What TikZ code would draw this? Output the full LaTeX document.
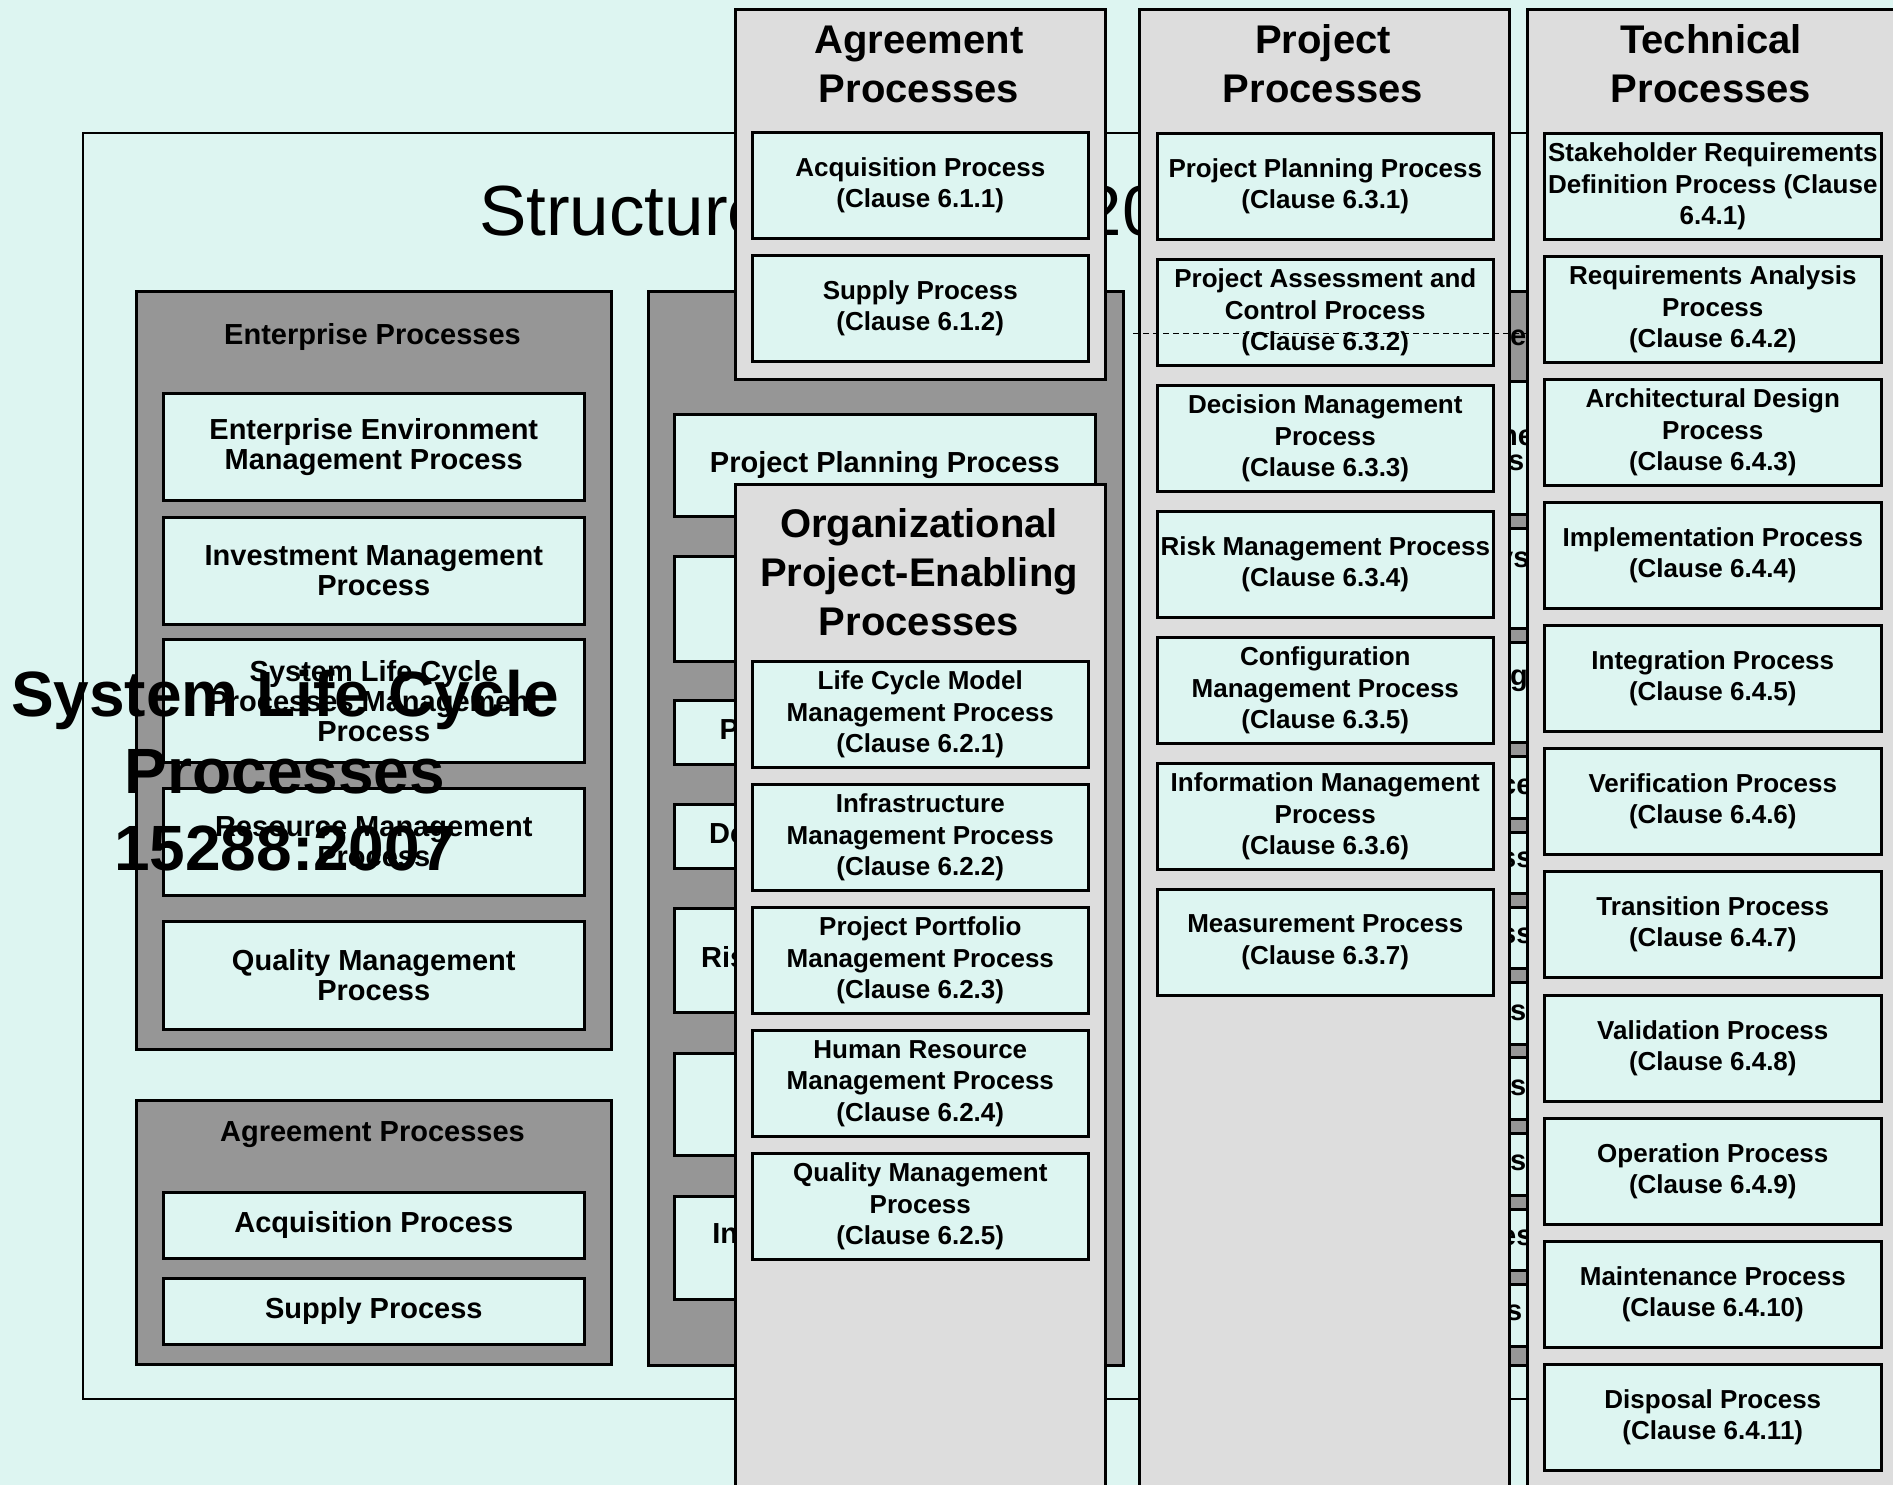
\documentclass[tikz,border=0pt]{standalone}
\usepackage{fontspec}
\setmainfont{Liberation Sans}
\definecolor{cyanbg}{RGB}{221,245,241}
\definecolor{dkgrey}{RGB}{150,150,150}
\definecolor{ltgrey}{RGB}{221,221,221}
\newcommand{\fOld}{\fontsize{29}{30}\selectfont\bfseries}
\newcommand{\fNew}{\fontsize{26}{31.5}\selectfont\bfseries}
\newcommand{\fHead}{\fontsize{40}{49}\selectfont\bfseries}
\newcommand{\fBig}{\fontsize{64}{77}\selectfont\bfseries}
\newcommand{\fTitle}{\fontsize{71}{80}\selectfont}
\tikzset{
  frame/.style={draw=black, line width=2.2pt, anchor=north west, inner sep=0pt},
  oldpanel/.style={draw=black, line width=2.6pt, fill=dkgrey, anchor=north west, inner sep=0pt, minimum width=475pt},
  newpanel/.style={draw=black, line width=2.6pt, fill=ltgrey, anchor=north west, inner sep=0pt, minimum width=370pt},
  oldbox/.style={draw=black, line width=2.6pt, fill=cyanbg, anchor=north west, minimum width=421pt, inner sep=0pt, align=center, font=\fOld},
  newbox/.style={draw=black, line width=2.6pt, fill=cyanbg, anchor=north west, minimum width=336pt, minimum height=106pt, inner sep=0pt, align=center, font=\fNew},
  oldhead/.style={font=\fOld, inner sep=0pt},
  newhead/.style={font=\fHead, align=center, inner sep=0pt},
  frag/.style={font=\fOld, anchor=base west, inner sep=0pt}
}
\begin{document}
\begin{tikzpicture}[x=1pt,y=-1pt]
\useasboundingbox (0,0) rectangle (1893,1485);
\fill[cyanbg] (0,0) rectangle (1893,1485);

% old structure frame and title
\node[frame, minimum width=1605pt, minimum height=1266pt] (frame) at (82,132) {};
\node[anchor=base west, font=\fTitle, inner sep=0pt] (title) at (479,235) {Structure of 15288:2002};

% old enterprise processes
\node[oldpanel, minimum height=758pt] (ent) at (135,290) {};
\node[oldhead] (entT) at (372.5,337) {Enterprise Processes};
\node[oldbox, minimum height=107pt] (e1) at (162,392) {Enterprise Environment\\Management Process};
\node[oldbox, minimum height=107pt] (e2) at (162,516) {Investment Management\\Process};
\node[oldbox, minimum height=123pt] (e3) at (162,638) {System Life Cycle\\Processes Management\\Process};
\node[oldbox, minimum height=107pt] (e4) at (162,787) {Resource Management\\Process};
\node[oldbox, minimum height=108pt] (e5) at (162,920) {Quality Management\\Process};

% old agreement processes
\node[oldpanel, minimum height=264pt] (oag) at (135,1099) {};
\node[oldhead] (oagT) at (372.5,1135) {Agreement Processes};
\node[oldbox, minimum height=66pt] (oa1) at (162,1191) {Acquisition Process};
\node[oldbox, minimum height=66pt] (oa2) at (162,1277) {Supply Process};

% old project processes
\node[oldpanel, minimum height=1074pt] (opp) at (647,290) {};
\node[oldbox, minimum height=102pt] (op1) at (673,413) {Project Planning Process};
\node[oldbox, minimum height=105pt] (op2) at (673,555) {};
\node[oldbox, minimum height=64pt] (op3) at (673,699) {Project Control Process};
\node[oldbox, minimum height=64pt] (op4) at (673,803) {Decision-Making Process};
\node[oldbox, minimum height=104pt] (op5) at (673,907) {Risk Management Process};
\node[oldbox, minimum height=102pt] (op6) at (673,1052) {};
\node[oldbox, minimum height=103pt] (op7) at (673,1195) {Information Management\\Process};

% old technical processes (only a strip stays visible)
\node[oldpanel, minimum height=1074pt] (otp) at (1159,290) {};
\node[oldbox, minimum height=133pt] (ot1) at (1185,380) {};
\node[oldbox, minimum height=100pt] (ot2) at (1185,527) {};
\node[oldbox, minimum height=100pt] (ot3) at (1185,641) {};
\node[oldbox, minimum height=62pt] (ot4) at (1185,755) {};
\node[oldbox, minimum height=61pt] (ot5) at (1185,831) {};
\node[oldbox, minimum height=61pt] (ot6) at (1185,906) {};
\node[oldbox, minimum height=62pt] (ot7) at (1185,981) {};
\node[oldbox, minimum height=62pt] (ot8) at (1185,1056) {};
\node[oldbox, minimum height=62pt] (ot9) at (1185,1132) {};
\node[oldbox, minimum height=61pt] (ot10) at (1185,1208) {};
\node[oldbox, minimum height=62pt] (ot11) at (1185,1283) {};
\node[frag] (fr0) at (1510,345) {es};
\node[frag] (fr1) at (1500,445) {ne};
\node[frag] (fr2) at (1508,470) {s};
\node[frag] (fr3) at (1497,567) {ys};
\node[frag] (fr4) at (1510,685) {g};
\node[frag] (fr5) at (1500,794) {ce};
\node[frag] (fr6) at (1500,867) {ss};
\node[frag] (fr7) at (1500,943) {ss};
\node[frag] (fr8) at (1510,1020) {s};
\node[frag] (fr9) at (1510,1095) {s};
\node[frag] (fr10) at (1510,1170) {s};
\node[frag] (fr11) at (1500,1245) {es};
\node[frag] (fr12) at (1506,1320) {s};

% big overlay label
\node[font=\fBig, align=center, inner sep=0pt] (slc) at (285,771) {System Life Cycle\\Processes\\15288:2007};

% new agreement processes
\node[newpanel, minimum height=370pt] (agr) at (734,8) {};
\node[newhead] (agrT) at (919,64) {Agreement\\Processes};
\node[newbox] (a1) at (751,131) {Acquisition Process\\(Clause 6.1.1)};
\node[newbox] (a2) at (751,254) {Supply Process\\(Clause 6.1.2)};

% new organizational project-enabling processes
\node[newpanel, minimum height=1100pt] (org) at (734,483) {};
\node[newhead] (orgT) at (919,572) {Organizational\\Project-Enabling\\Processes};
\node[newbox] (o1) at (751,660) {Life Cycle Model\\Management Process\\(Clause 6.2.1)};
\node[newbox] (o2) at (751,783) {Infrastructure\\Management Process\\(Clause 6.2.2)};
\node[newbox] (o3) at (751,906) {Project Portfolio\\Management Process\\(Clause 6.2.3)};
\node[newbox] (o4) at (751,1029) {Human Resource\\Management Process\\(Clause 6.2.4)};
\node[newbox] (o5) at (751,1152) {Quality Management\\Process\\(Clause 6.2.5)};

% new project processes
\node[newpanel, minimum height=1577pt] (prj) at (1138,8) {};
\node[newhead] (prjT) at (1323,64) {Project\\Processes};
\node[newbox] (p1) at (1156,132) {Project Planning Process\\(Clause 6.3.1)};
\node[newbox] (p2) at (1156,258) {Project Assessment and\\Control Process\\(Clause 6.3.2)};
\node[newbox] (p3) at (1156,384) {Decision Management\\Process\\(Clause 6.3.3)};
\node[newbox] (p4) at (1156,510) {Risk Management Process\\(Clause 6.3.4)};
\node[newbox] (p5) at (1156,636) {Configuration\\Management Process\\(Clause 6.3.5)};
\node[newbox] (p6) at (1156,762) {Information Management\\Process\\(Clause 6.3.6)};
\node[newbox] (p7) at (1156,888) {Measurement Process\\(Clause 6.3.7)};

\coordinate (dl1) at (1133,333);
\coordinate (dl2) at (1533,333);
\draw[line width=1pt, dash pattern=on 6pt off 4pt] (dl1) -- (dl2);

% new technical processes
\node[newpanel, minimum height=1577pt] (tec) at (1526,8) {};
\node[newhead] (tecT) at (1711,64) {Technical\\Processes};
\node[newbox, minimum width=337pt] (t1) at (1543,132) {Stakeholder Requirements\\Definition Process (Clause\\6.4.1)};
\node[newbox, minimum width=337pt] (t2) at (1543,255) {Requirements Analysis\\Process\\(Clause 6.4.2)};
\node[newbox, minimum width=337pt] (t3) at (1543,378) {Architectural Design\\Process\\(Clause 6.4.3)};
\node[newbox, minimum width=337pt] (t4) at (1543,501) {Implementation Process\\(Clause 6.4.4)};
\node[newbox, minimum width=337pt] (t5) at (1543,624) {Integration Process\\(Clause 6.4.5)};
\node[newbox, minimum width=337pt] (t6) at (1543,747) {Verification Process\\(Clause 6.4.6)};
\node[newbox, minimum width=337pt] (t7) at (1543,870) {Transition Process\\(Clause 6.4.7)};
\node[newbox, minimum width=337pt] (t8) at (1543,994) {Validation Process\\(Clause 6.4.8)};
\node[newbox, minimum width=337pt] (t9) at (1543,1117) {Operation Process\\(Clause 6.4.9)};
\node[newbox, minimum width=337pt] (t10) at (1543,1240) {Maintenance Process\\(Clause 6.4.10)};
\node[newbox, minimum width=337pt] (t11) at (1543,1363) {Disposal Process\\(Clause 6.4.11)};
\end{tikzpicture}
\end{document}
